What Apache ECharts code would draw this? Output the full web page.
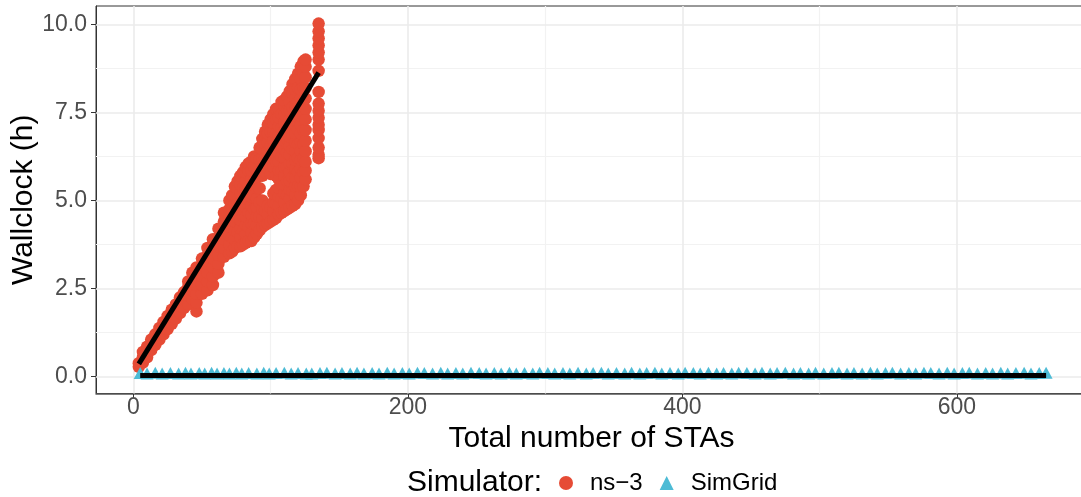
<!DOCTYPE html>
<html>
<head>
<meta charset="utf-8">
<script src="https://cdn.jsdelivr.net/npm/echarts@6/dist/echarts.min.js"></script>
<style>
  html, body { margin: 0; padding: 0; background: #ffffff; }
  #chart { width: 1081px; height: 497px; }
</style>
</head>
<body>
<div id="chart"></div>
<script>
// ns-3 runs: number of STAs and the wallclock hours measured at each size
const ns3Stas = [4, 7, 10, 13, 16, 19, 22, 25, 28, 31, 34, 37, 40, 43, 46, 50, 54, 58, 62, 66,
  70, 72, 74, 76, 78, 80, 82, 84, 86, 88, 90, 92, 94, 96, 98, 100, 102, 104, 106, 108,
  110, 112, 114, 116, 118, 120, 122, 124, 125.5, 135];
const ns3Hours = [
  [0.28, 0.38],
  [0.40, 0.55, 0.70],
  [0.55, 0.72, 0.85],
  [0.75, 0.90, 1.05],
  [0.90, 1.05, 1.20],
  [1.05, 1.20, 1.38],
  [1.20, 1.38, 1.55],
  [1.35, 1.55, 1.72],
  [1.50, 1.70, 1.90],
  [1.65, 1.85, 2.05],
  [1.80, 2.00, 2.25],
  [1.95, 2.15, 2.40],
  [2.05, 2.30, 2.55, 2.70],
  [2.20, 2.45, 2.70, 2.95],
  [1.85, 2.10, 2.35, 2.60, 2.85, 3.10],
  [2.35, 2.60, 2.85, 3.10, 3.35],
  [2.45, 2.70, 2.95, 3.20, 3.45, 3.65],
  [2.60, 2.85, 3.10, 3.35, 3.60, 3.90],
  [2.95, 3.20, 3.45, 3.70, 3.95, 4.20],
  [3.40, 3.65, 3.90, 4.15, 4.40, 4.65],
  [3.50, 3.75, 4.00, 4.25, 4.50, 4.75, 5.00],
  [3.55, 3.95, 4.35, 4.75, 5.15],
  [3.65, 3.90, 4.15, 4.40, 4.65, 4.90, 5.15, 5.40],
  [3.70, 4.10, 4.50, 4.90, 5.30, 5.55],
  [3.70, 3.95, 4.20, 4.45, 4.70, 4.95, 5.20, 5.45, 5.70],
  [3.75, 4.15, 4.55, 4.95, 5.35, 5.80],
  [3.80, 4.05, 4.30, 4.55, 4.80, 5.05, 5.30, 5.55, 5.80, 5.95],
  [3.85, 4.25, 4.65, 5.05, 5.45, 5.85, 6.05],
  [3.85, 4.10, 4.35, 4.60, 4.85, 5.10, 5.35, 5.60, 5.85, 6.10],
  [3.95, 4.35, 4.75, 5.15, 5.55, 5.95, 6.25],
  [4.05, 4.30, 4.55, 4.80, 5.05, 5.35, 5.65, 5.95, 6.20],
  [4.15, 4.55, 4.95, 5.35, 5.75, 6.15, 6.50],
  [4.25, 4.50, 4.75, 5.00, 5.70, 5.95, 6.20, 6.45, 6.75],
  [4.30, 4.70, 5.80, 6.20, 6.60, 6.95],
  [4.35, 4.60, 4.85, 5.90, 6.15, 6.40, 6.65, 6.90, 7.15],
  [4.40, 4.80, 5.75, 6.15, 6.55, 6.95, 7.30],
  [4.45, 4.70, 4.95, 5.20, 5.95, 6.20, 6.45, 6.70, 6.95, 7.20, 7.45],
  [4.50, 4.90, 5.30, 5.70, 6.10, 6.50, 6.90, 7.30, 7.60],
  [4.60, 4.85, 5.10, 5.35, 5.60, 5.85, 6.10, 6.35, 6.60, 6.85, 7.10, 7.35, 7.60],
  [4.65, 5.05, 5.45, 5.85, 6.25, 6.65, 7.05, 7.45, 7.80],
  [4.70, 4.95, 5.20, 5.45, 5.70, 5.95, 6.20, 6.45, 6.70, 6.95, 7.20, 7.45, 7.70, 7.85],
  [4.75, 5.15, 5.55, 5.95, 6.35, 6.75, 7.15, 7.55, 7.95],
  [4.80, 5.05, 5.30, 5.55, 5.80, 6.05, 6.30, 6.55, 6.80, 7.05, 7.30, 7.55, 7.80, 8.10],
  [4.85, 5.25, 5.65, 6.05, 6.45, 6.85, 7.25, 7.65, 8.05, 8.30],
  [4.90, 5.15, 5.40, 5.65, 5.90, 6.15, 6.40, 6.65, 6.90, 7.15, 7.40, 7.65, 7.90, 8.15, 8.45],
  [5.00, 5.40, 5.80, 6.20, 6.60, 7.00, 7.40, 7.80, 8.20, 8.60],
  [5.15, 5.40, 5.65, 5.90, 6.15, 6.40, 6.65, 6.90, 7.15, 7.40, 7.65, 7.90, 8.15, 8.45, 8.80],
  [5.40, 5.80, 6.20, 6.60, 7.00, 7.40, 7.80, 8.20, 8.60, 8.95],
  [5.60, 5.85, 6.10, 6.40, 6.70, 7.00, 7.30, 7.60, 7.90, 8.20, 8.50, 8.80, 9.00],
  [6.20, 6.30, 6.50, 6.77, 7.00, 7.15, 7.35, 7.55, 7.75, 8.08, 8.68, 9.00, 9.20, 9.40, 9.60, 9.80, 10.02]
];

// SimGrid runs: number of STAs and wallclock hours
const simgridStas = [
  5, 10, 16, 21, 27, 33, 38, 42, 48, 52,
  57, 61, 66, 70, 75, 79, 84, 90, 95, 99,
  104, 110, 115, 120, 126, 130, 136, 141, 147, 152,
  158, 163, 168, 174, 179, 185, 190, 196, 201, 207,
  212, 218, 224, 229, 235, 240, 246, 252, 257, 263,
  268, 274, 279, 285, 291, 296, 302, 307, 313, 318,
  324, 330, 335, 341, 346, 352, 358, 363, 369, 374,
  380, 385, 391, 397, 402, 408, 413, 419, 425, 430,
  436, 441, 447, 453, 458, 464, 469, 475, 481, 486,
  492, 497, 503, 509, 514, 520, 525, 531, 537, 542,
  548, 553, 559, 565, 570, 576, 581, 587, 593, 598,
  604, 609, 615, 621, 626, 632, 637, 643, 649, 654,
  660, 665
];
const simgridHours = [
  0.10, 0.09, 0.11, 0.09, 0.10, 0.09, 0.11, 0.09, 0.10, 0.09,
  0.11, 0.09, 0.10, 0.09, 0.11, 0.09, 0.10, 0.09, 0.11, 0.09,
  0.10, 0.11, 0.09, 0.10, 0.09, 0.09, 0.10, 0.11, 0.09, 0.10,
  0.09, 0.11, 0.09, 0.10, 0.09, 0.11, 0.09, 0.10, 0.09, 0.11,
  0.10, 0.09, 0.11, 0.09, 0.10, 0.09, 0.11, 0.10, 0.09, 0.10,
  0.09, 0.11, 0.09, 0.10, 0.09, 0.11, 0.10, 0.09, 0.10, 0.09,
  0.11, 0.09, 0.10, 0.11, 0.09, 0.10, 0.09, 0.11, 0.09, 0.10,
  0.11, 0.09, 0.10, 0.09, 0.11, 0.10, 0.09, 0.11, 0.09, 0.10,
  0.09, 0.11, 0.10, 0.09, 0.11, 0.09, 0.10, 0.11, 0.09, 0.10,
  0.09, 0.11, 0.09, 0.10, 0.11, 0.09, 0.10, 0.09, 0.11, 0.09,
  0.10, 0.11, 0.09, 0.10, 0.09, 0.11, 0.10, 0.09, 0.11, 0.09,
  0.10, 0.11, 0.09, 0.10, 0.09, 0.11, 0.09, 0.10, 0.11, 0.09,
  0.10, 0.11
];

// Linear fits, one per simulator (end points)
const ns3FitStas = [4, 135];
const ns3FitHours = [0.36, 8.63];
const simgridFitStas = [5, 665];
const simgridFitHours = [0.03, 0.03];

// Axis ticks and grid lines
const xTicks = [0, 200, 400, 600];
const xMinor = [100, 300, 500, 700];
const yTicks = [0, 2.5, 5, 7.5, 10];
const yMinor = [1.25, 3.75, 6.25, 8.75];

const RED = '#E64B35';
const BLUE = '#4DBBD5';
const FONT = '"Liberation Sans", Arial, Helvetica, sans-serif';

const ns3Points = [];
ns3Stas.forEach((s, i) => ns3Hours[i].forEach(h => ns3Points.push([s, h])));
const simgridPoints = simgridStas.map((s, i) => [s, simgridHours[i]]);
const pairs = (xs, ys) => xs.map((x, i) => [x, ys[i]]);

const gridLines = [];
const minorStyle = { color: '#F2F2F2', width: 1.2, type: 'solid' };
const majorStyle = { color: '#EBEBEB', width: 1.6, type: 'solid' };
xMinor.forEach(v => gridLines.push({ xAxis: v, lineStyle: minorStyle }));
yMinor.forEach(v => gridLines.push({ yAxis: v, lineStyle: minorStyle }));
xTicks.forEach(v => gridLines.push({ xAxis: v, lineStyle: majorStyle }));
yTicks.forEach(v => gridLines.push({ yAxis: v, lineStyle: majorStyle }));

const chart = echarts.init(document.getElementById('chart'), null, { renderer: 'canvas', devicePixelRatio: 1 });

chart.setOption({
  backgroundColor: '#ffffff',
  animation: false,
  textStyle: { fontFamily: FONT },
  grid: {
    left: 96, top: 6, right: -20, bottom: 103.5,
    containLabel: false, outerBoundsMode: 'none',
    show: true, borderColor: '#333333', borderWidth: 1, backgroundColor: '#ffffff'
  },
  xAxis: {
    type: 'value', min: -27.2, max: 705,
    name: 'Total number of STAs', nameLocation: 'middle', nameGap: 30, nameMoveOverlap: false,
    nameTextStyle: { fontSize: 30, color: '#000000', fontFamily: FONT, padding: [0, 14, 0, 0] },
    axisLine: { show: true, onZero: false, lineStyle: { color: '#555555', width: 1.5 } },
    axisTick: { show: true, length: 5, customValues: xTicks, lineStyle: { color: '#333333', width: 1 } },
    axisLabel: { customValues: xTicks, margin: 3, fontSize: 23, color: '#4D4D4D', fontFamily: FONT },
    splitLine: { show: false }
  },
  yAxis: {
    type: 'value', min: -0.48, max: 10.52,
    name: 'Wallclock (h)', nameLocation: 'middle', nameGap: 57, nameMoveOverlap: false,
    nameTextStyle: { fontSize: 30, color: '#000000', fontFamily: FONT },
    axisLine: { show: true, onZero: false, lineStyle: { color: '#333333', width: 1 } },
    axisTick: { show: true, length: 5, customValues: yTicks, lineStyle: { color: '#333333', width: 1 } },
    axisLabel: { customValues: yTicks, margin: 9, fontSize: 23, color: '#4D4D4D', fontFamily: FONT,
      formatter: v => v.toFixed(1) },
    splitLine: { show: false }
  },
  legend: {
    data: [{ name: 'ns−3', icon: 'circle' }, { name: 'SimGrid', icon: 'triangle' }],
    left: 554, top: 466,
    itemWidth: 14, itemHeight: 14, itemGap: 17,
    textStyle: { fontSize: 24, color: '#000000', fontFamily: FONT, padding: [0, 0, 0, 12] }
  },
  graphic: [{
    type: 'text', left: 407, top: 468,
    style: { text: 'Simulator:', font: '30px ' + FONT, fill: '#000000' }
  }],
  series: [
    {
      type: 'scatter', name: 'grid', data: [], silent: true, z: 1,
      markLine: { z: 1, silent: true, symbol: ['none', 'none'], label: { show: false }, animation: false, data: gridLines }
    },
    {
      type: 'scatter', name: 'ns−3', data: ns3Points, symbol: 'circle', symbolSize: 12.5, z: 3,
      itemStyle: { color: RED, opacity: 1 }
    },
    {
      type: 'scatter', name: 'SimGrid', data: simgridPoints, symbol: 'triangle', symbolSize: [13, 12], z: 3,
      itemStyle: { color: BLUE, opacity: 1 }
    },
    {
      type: 'line', name: 'ns-3 fit', data: pairs(ns3FitStas, ns3FitHours), showSymbol: false, symbol: 'none', z: 4,
      lineStyle: { color: '#000000', width: 5 }
    },
    {
      type: 'line', name: 'SimGrid fit', data: pairs(simgridFitStas, simgridFitHours), showSymbol: false, symbol: 'none', z: 4,
      lineStyle: { color: '#000000', width: 5 }
    }
  ]
});
</script>
</body>
</html>
